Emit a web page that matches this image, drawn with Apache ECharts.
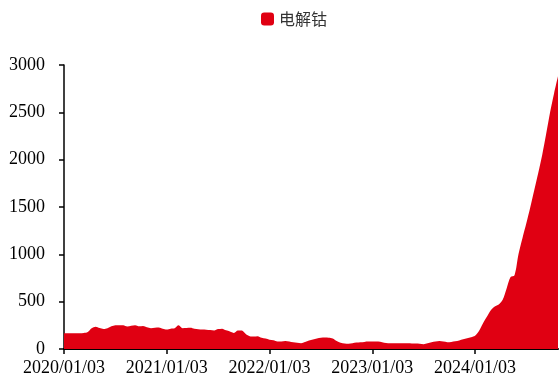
<!DOCTYPE html>
<html>
<head>
<meta charset="utf-8">
<script src="https://cdn.jsdelivr.net/npm/echarts@6/dist/echarts.min.js"></script>
<style>
  html, body { margin: 0; padding: 0; background: #fff; }
  #chart { width: 559px; height: 383px; }
</style>
</head>
<body>
<div id="chart"></div>
<script>
// biweekly samples starting 2020/01/03
const seriesName = '电解钴'
const cobaltValues = [
  166, 166, 166, 166, 167, 170, 180, 220, 236, 222,
  212, 220, 240, 250, 252, 250, 238, 245, 252, 240,
  244, 230, 220, 225, 228, 215, 205, 215, 220, 250,
  220, 222, 225, 215, 208, 205, 203, 200, 196, 210,
  215, 198, 185, 170, 195, 195, 158, 135, 132, 135,
  118, 110, 98, 92, 80, 80, 84, 78, 70, 65,
  62, 75, 90, 100, 112, 120, 122, 120, 112, 85,
  67, 58, 55, 60, 68, 72, 75, 78, 78, 78,
  76, 65, 60, 60, 62, 62, 60, 60, 58, 58,
  55, 50, 60, 70, 78, 84, 78, 72, 75, 82,
  90, 102, 113, 125, 140, 190, 270, 340, 410, 450,
  470, 520, 640, 760, 780, 1000, 1170, 1330, 1500, 1680,
  1860, 2050, 2270, 2500, 2700, 2880
]
const xTickValues = [0, 26, 52, 78, 104]
const xTickLabels = ['2020/01/03', '2021/01/03', '2022/01/03', '2023/01/03', '2024/01/03']

const chart = echarts.init(document.getElementById('chart'))

const option = {
  animation: false,
  backgroundColor: '#fff',
  legend: {
    data: [seriesName],
    left: 256,
    top: 6,
    icon: 'roundRect',
    itemWidth: 13,
    itemHeight: 13,
    itemGap: 4,
    textStyle: {
      fontFamily: 'Noto Sans CJK SC',
      fontSize: 16,
      color: '#333'
    }
  },
  grid: {
    left: 64,
    right: 1,
    top: 65,
    bottom: 34
  },
  xAxis: {
    type: 'value',
    min: 0,
    max: cobaltValues.length - 1,
    interval: 26,
    splitLine: { show: false },
    axisLine: {
      lineStyle: { color: '#000', width: 2 }
    },
    axisTick: {
      show: true,
      length: 5,
      customValues: xTickValues,
      lineStyle: { color: '#000', width: 1.5 }
    },
    axisLabel: {
      customValues: xTickValues,
      margin: 10,
      color: '#000',
      fontFamily: 'Liberation Serif',
      fontSize: 18,
      formatter: v => xTickLabels[xTickValues.indexOf(v)] || ''
    }
  },
  yAxis: {
    type: 'value',
    min: 0,
    max: 3000,
    interval: 500,
    splitLine: { show: false },
    axisLine: {
      show: true,
      lineStyle: { color: '#000', width: 1.5 }
    },
    axisTick: {
      show: true,
      length: 5,
      lineStyle: { color: '#000', width: 1.5 }
    },
    axisLabel: {
      margin: 19,
      color: '#000',
      fontFamily: 'Liberation Serif',
      fontSize: 18,
      formatter: v => String(v)
    }
  },
  series: [
    {
      name: seriesName,
      type: 'line',
      data: cobaltValues.map((v, i) => [i, v]),
      showSymbol: false,
      smooth: 0.3,
      lineStyle: { width: 0 },
      itemStyle: { color: '#E00012' },
      areaStyle: { color: '#E00012', opacity: 1 }
    }
  ]
}

chart.setOption(option)
</script>
</body>
</html>
